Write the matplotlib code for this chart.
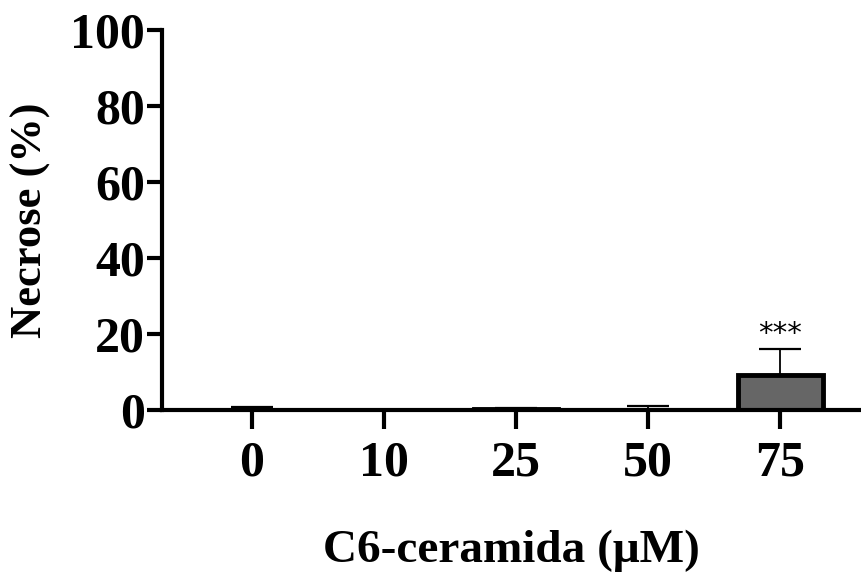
import matplotlib
matplotlib.use("Agg")
import matplotlib.pyplot as plt
import numpy as np

doses = ["0", "10", "25", "50", "75"]
necrose = [0.1, 0.0, 0.3, 0.1, 9.2]
sd = [0.7, 0.0, 0.3, 0.9, 6.8]
signif = ["", "", "", "", "***"]

plt.rcParams["font.family"] = ["Liberation Serif", "DejaVu Serif"]

fig = plt.figure(figsize=(8.61, 5.73), dpi=100)
ax = fig.add_axes([0.188, 0.2845, 0.812, 0.663])

x = np.arange(len(doses))
ax.bar(x, necrose, width=0.64, color="#666666", edgecolor="black", linewidth=3.5, zorder=2)
ax.errorbar(x, necrose, yerr=[np.zeros(len(sd)), sd], fmt="none", ecolor="black",
            elinewidth=1.3, capsize=15, capthick=1.6, zorder=3)
for xi, v, e, s in zip(x, necrose, sd, signif):
    if s:
        ax.text(xi, v + e + 0.2, s, ha="center", va="bottom", fontsize=21,
                family="DejaVu Sans")

ax.set_xlim(-0.68, 4.61)
ax.set_ylim(0, 100)
ax.set_yticks([0, 20, 40, 60, 80, 100])
ax.set_xticks(x)
ax.set_xticklabels(doses)
for side in ["top", "right"]:
    ax.spines[side].set_visible(False)
for side in ["left", "bottom"]:
    ax.spines[side].set_linewidth(3)
ax.tick_params(axis="y", length=11, width=3, labelsize=36, pad=1)
ax.tick_params(axis="x", length=14, width=3, labelsize=36, pad=8)
for lab in ax.get_xticklabels() + ax.get_yticklabels():
    lab.set_fontweight("bold")
ax.set_ylabel("Necrose (%)", fontsize=32, fontweight="bold", labelpad=14)
ax.set_xlabel("C6-ceramida (\u03bcM)", fontsize=34, fontweight="bold", labelpad=31)

fig.savefig("out.png", dpi=100)
